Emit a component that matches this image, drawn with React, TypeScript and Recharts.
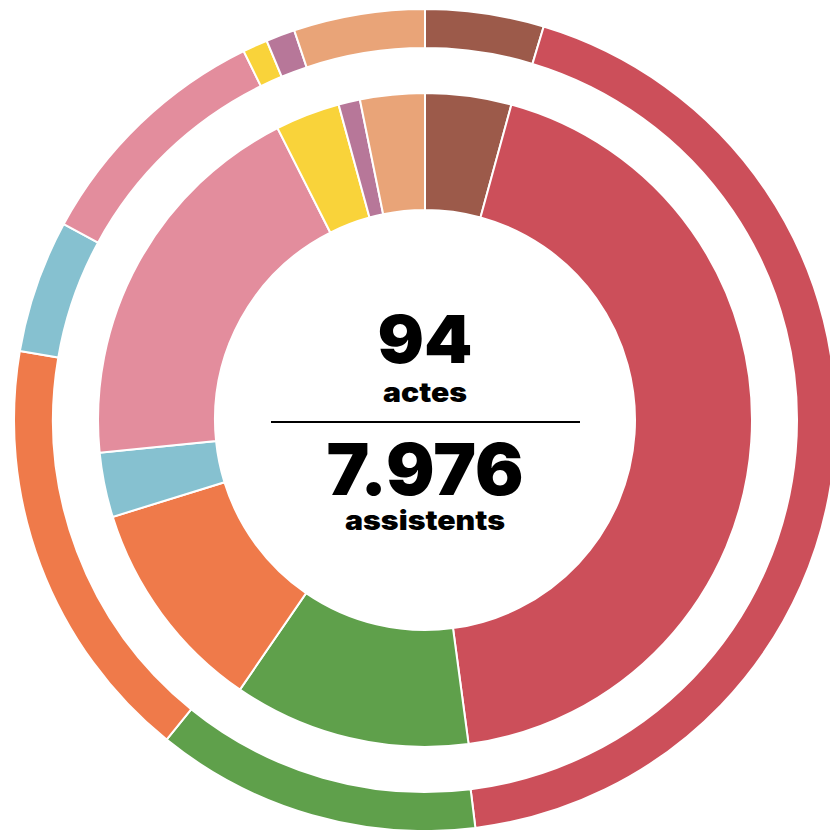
import React from "react";
import { PieChart, Pie, Cell } from "recharts";

const categories = ["A", "B", "C", "D", "E", "F", "G", "H", "I"];
const actes = [4, 41, 11, 10, 3, 18, 3, 1, 3];
const assistents = [372, 3460, 1019, 1345, 417, 783, 78, 91, 411];
const colors = ["#9C5A4A", "#CC4F5A", "#5FA04B", "#EF7A4A", "#86C1D0", "#E38D9D", "#F9D33A", "#B77799", "#E9A478"];
const totalActes = "94";
const totalAssistents = "7.976";

const innerData = categories.map((c, i) => ({ name: c, value: actes[i] }));
const outerData = categories.map((c, i) => ({ name: c, value: assistents[i] }));

const font = "Inter, 'DejaVu Sans', sans-serif";

export default function App() {
  return (
    <div style={{ position: "absolute", left: 0, top: 0, width: 830, height: 830, background: "#fff" }}>
      <PieChart width={830} height={830} margin={{ top: 0, right: 0, bottom: 0, left: 0 }}>
        <Pie
          data={innerData}
          dataKey="value"
          cx={425}
          cy={420}
          innerRadius={210}
          outerRadius={327}
          startAngle={90}
          endAngle={-270}
          stroke="#fff"
          strokeWidth={2}
          isAnimationActive={false}
        >
          {innerData.map((d, i) => (
            <Cell key={d.name} fill={colors[i]} />
          ))}
        </Pie>
        <Pie
          data={outerData}
          dataKey="value"
          cx={425}
          cy={420}
          innerRadius={372}
          outerRadius={411}
          startAngle={90}
          endAngle={-270}
          stroke="#fff"
          strokeWidth={2}
          isAnimationActive={false}
        >
          {outerData.map((d, i) => (
            <Cell key={d.name} fill={colors[i]} />
          ))}
        </Pie>
        <text x={425} y={363} textAnchor="middle" fontFamily={font} fontWeight={900} fontSize={66} fill="#000" textLength={95} lengthAdjust="spacingAndGlyphs">{totalActes}</text>
        <text x={425} y={402} textAnchor="middle" fontFamily={font} fontWeight={900} fontSize={27} fill="#000" textLength={84} lengthAdjust="spacingAndGlyphs">actes</text>
        <line x1={271} x2={580} y1={422} y2={422} stroke="#000" strokeWidth={2} />
        <text x={425} y={495} textAnchor="middle" fontFamily={font} fontWeight={900} fontSize={71} fill="#000" textLength={197} lengthAdjust="spacingAndGlyphs">{totalAssistents}</text>
        <text x={425} y={530} textAnchor="middle" fontFamily={font} fontWeight={900} fontSize={27} fill="#000" textLength={160} lengthAdjust="spacingAndGlyphs">assistents</text>
      </PieChart>
    </div>
  );
}
